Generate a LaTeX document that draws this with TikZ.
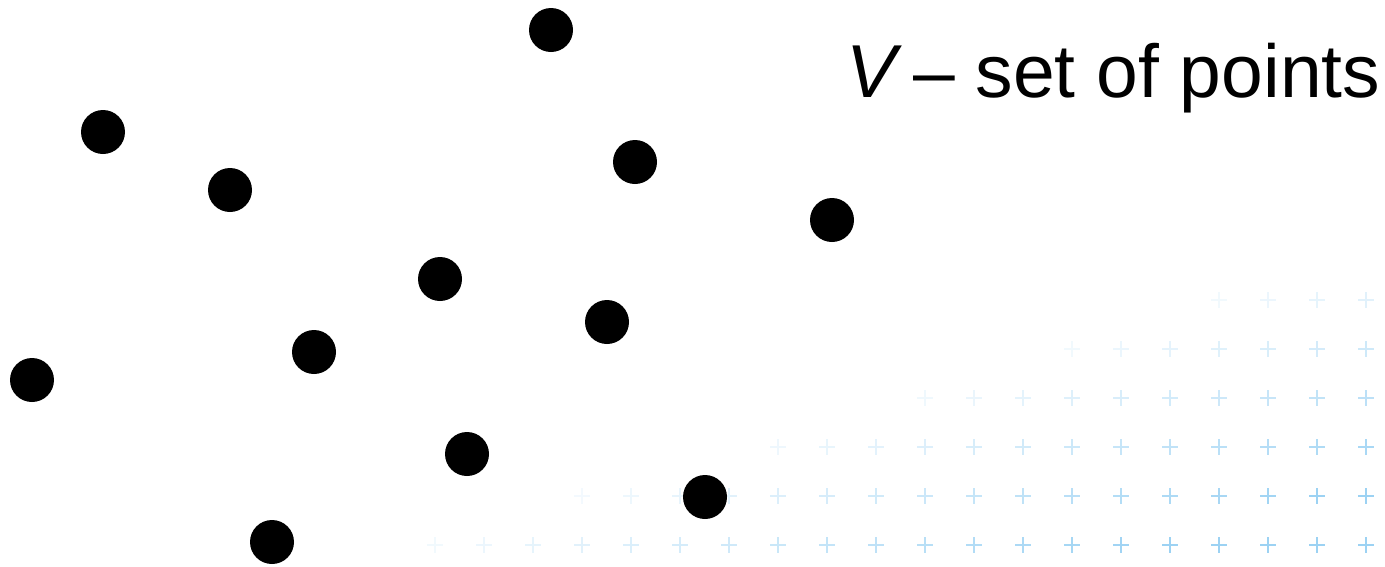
\documentclass[tikz,border=0pt]{standalone}
\usepackage{fontspec}
\setmainfont{Liberation Sans}
\definecolor{crossblue}{RGB}{90,180,235}
\begin{document}
\begin{tikzpicture}[x=1pt,y=-1pt,
  pt/.style={circle,fill=black,inner sep=0pt,minimum size=44pt},
  crossline/.style={draw=crossblue,line width=2.2pt},
  lbl/.style={inner sep=0pt,font=\fontsize{75}{80}\selectfont}]
\useasboundingbox (0,0) rectangle (1385,566);
\foreach \i in {0,...,19}{
  \foreach \j in {0,...,5}{
    \pgfmathsetmacro\v{19.3-\i-3.2*\j}
    \ifdim\v pt>0pt
      \pgfmathsetmacro\op{min(0.6,0.07+0.035*\v)}
      \pgfmathsetmacro\cx{1366-49*\i}
      \pgfmathsetmacro\cy{545-49*\j}
      \draw[crossline,opacity=\op] (\cx-8,\cy) -- (\cx+8,\cy) (\cx,\cy-8) -- (\cx,\cy+8);
    \fi
  }
}
\node[pt] (p1) at (551,30) {};
\node[pt] (p2) at (103,132) {};
\node[pt] (p3) at (230,190) {};
\node[pt] (p4) at (635,162) {};
\node[pt] (p5) at (832,220) {};
\node[pt] (p6) at (440,279) {};
\node[pt] (p7) at (607,322) {};
\node[pt] (p8) at (314,352) {};
\node[pt] (p9) at (32,380) {};
\node[pt] (p10) at (467,454) {};
\node[pt] (p11) at (705,497) {};
\node[pt] (p12) at (272,542) {};
\node[lbl,anchor=base west] (vlab) at (846,97) {\textit{V}};
\node[lbl,anchor=base west] (title) at (913,97) {– set of points};
\end{tikzpicture}
\end{document}
